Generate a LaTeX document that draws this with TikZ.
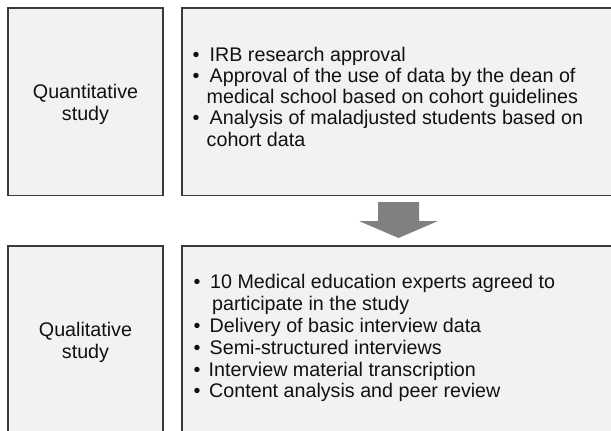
\documentclass[tikz,border=0pt]{standalone}
\usepackage{fontspec}
\setmainfont{Liberation Sans}
\definecolor{boxfill}{HTML}{F2F2F2}
\definecolor{boxline}{HTML}{3A3A3A}
\definecolor{arrowgray}{HTML}{808080}
\definecolor{txt}{HTML}{111111}
\begin{document}
\begin{tikzpicture}[x=1pt,y=-1pt,
  box/.style={draw=boxline,fill=boxfill,line width=1.5pt},
  txtline/.style={anchor=base west,inner sep=0pt,text=txt,font=\fontsize{19.7}{22}\selectfont},
  bul/.style={anchor=base west,inner sep=0pt,text=txt,font=\fontsize{19.7}{22}\selectfont},
  ctr/.style={anchor=base,inner sep=0pt,text=txt,font=\fontsize{19.7}{22}\selectfont}]
\useasboundingbox (0,0) rectangle (611,431);
\begin{scope}
\clip (0,0) rectangle (611,431);
\fill[white] (0,0) rectangle (611,431);
% top row
\draw[box] (8,8) rectangle (163,195.5);
\draw[box] (182,8) rectangle (640,195.5);
% bottom row
\draw[box] (8,246) rectangle (163,460);
\draw[box] (182,246) rectangle (640,460);
% block arrow
\fill[arrowgray] (378,202) -- (419,202) -- (419,221) -- (438,221) -- (398.5,238) -- (359,221) -- (378,221) -- cycle;
\end{scope}
% left labels
\node[ctr] (q1) at (85.5,98) {Quantitative};
\node[ctr] (q2) at (85.5,120.5) {study};
\node[ctr] (l1) at (85.5,336.5) {Qualitative};
\node[ctr] (l2) at (85.5,358.5) {study};
% top list
\node[bul] (tb1) at (192.5,61.7) {\textbullet};
\node[txtline] (t1) at (209.5,61.7) {IRB research approval};
\node[bul] (tb2) at (192.5,82) {\textbullet};
\node[txtline] (t2) at (209.5,82) {Approval of the use of data by the dean of};
\node[txtline] (t3) at (206.5,103.3) {medical school based on cohort guidelines};
\node[bul] (tb4) at (192.5,124.8) {\textbullet};
\node[txtline] (t4) at (209.5,124.8) {Analysis of maladjusted students based on};
\node[txtline] (t5) at (206.5,146) {cohort data};
% bottom list
\node[bul] (bb1) at (193.5,288) {\textbullet};
\node[txtline] (b1) at (210,288) {10 Medical education experts agreed to};
\node[txtline] (b2) at (212,310) {participate in the study};
\node[bul] (bb3) at (193.5,332.5) {\textbullet};
\node[txtline] (b3) at (209.5,332.5) {Delivery of basic interview data};
\node[bul] (bb4) at (193.5,354.8) {\textbullet};
\node[txtline] (b4) at (209.5,354.8) {Semi-structured interviews};
\node[bul] (bb5) at (193.5,376.7) {\textbullet};
\node[txtline] (b5) at (208.5,376.7) {Interview material transcription};
\node[bul] (bb6) at (193.5,397.8) {\textbullet};
\node[txtline] (b6) at (209,397.8) {Content analysis and peer review};
\end{tikzpicture}
\end{document}
